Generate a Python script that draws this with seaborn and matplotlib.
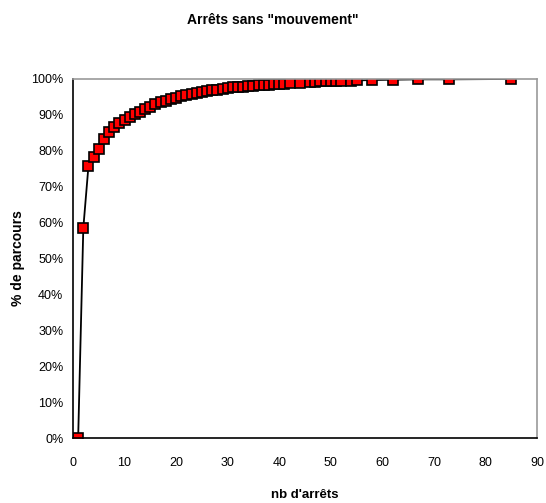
import matplotlib
matplotlib.use("Agg")
import matplotlib.pyplot as plt
import seaborn as sns
import pandas as pd
from matplotlib.ticker import PercentFormatter

# nb d'arrets (x) and cumulative % of parcours (y)
nb_arrets = list(range(1, 43)) + [44, 46, 47, 48, 49, 50, 51, 52, 54, 55, 58, 62, 67, 73, 85]
pct_parcours = [0, 58.5, 75.8, 78.2, 80.5, 83.2, 85.2, 86.7, 87.7, 88.6,
                89.5, 90.3, 90.9, 91.6, 92.3, 92.9, 93.5, 94.0, 94.4, 94.8,
                95.2, 95.5, 95.8, 96.1, 96.4, 96.6, 96.8, 97.0, 97.3, 97.5,
                97.7, 97.8, 97.9, 98.0, 98.1, 98.2, 98.3, 98.4, 98.5, 98.6,
                98.7, 98.8,
                99.0, 99.1, 99.2, 99.3, 99.3, 99.4, 99.4, 99.5, 99.5, 99.6,
                99.7, 99.8, 99.9, 99.9, 100]

df = pd.DataFrame({"nb": nb_arrets, "pct": pct_parcours})

sns.set_style("white", {"text.color": "black", "axes.labelcolor": "black",
                        "xtick.color": "black", "ytick.color": "black"})
plt.rcParams['font.family'] = ['Liberation Sans', 'DejaVu Sans']

fig = plt.figure(figsize=(5.46, 5.03), dpi=100)
ax = fig.add_axes([0.1337, 0.1292, 0.8498, 0.7138])

sns.lineplot(data=df, x="nb", y="pct", ax=ax, color="black", linewidth=1.3,
             marker="s", markersize=6.5, markerfacecolor="#ff0000",
             markeredgecolor="black", markeredgewidth=1.2)

ax.set_xlim(0, 90)
ax.set_ylim(0, 100)
ax.set_xticks(range(0, 91, 10))
ax.set_yticks(range(0, 101, 10))
ax.yaxis.set_major_formatter(PercentFormatter(decimals=0))
ax.tick_params(direction="inout", length=6, width=1, labelsize=9, pad=4,
               colors="black")
ax.tick_params(axis="x", pad=11)

for s in ["left", "bottom"]:
    ax.spines[s].set_color("black")
    ax.spines[s].set_linewidth(1.2)
for s in ["top", "right"]:
    ax.spines[s].set_color("#999999")
    ax.spines[s].set_linewidth(1.2)

ax.set_xlabel("nb d'arrêts", fontsize=9.5, fontweight="bold", va="center")
ax.set_ylabel("% de parcours", fontsize=10, fontweight="bold", va="center")
ax.xaxis.set_label_coords(0.5, -0.16)
ax.yaxis.set_label_coords(-0.118, 0.5)
fig.suptitle('Arrêts sans "mouvement"', fontsize=10, fontweight="bold",
             y=0.975, color="black")

fig.savefig("out.png", dpi=100)
